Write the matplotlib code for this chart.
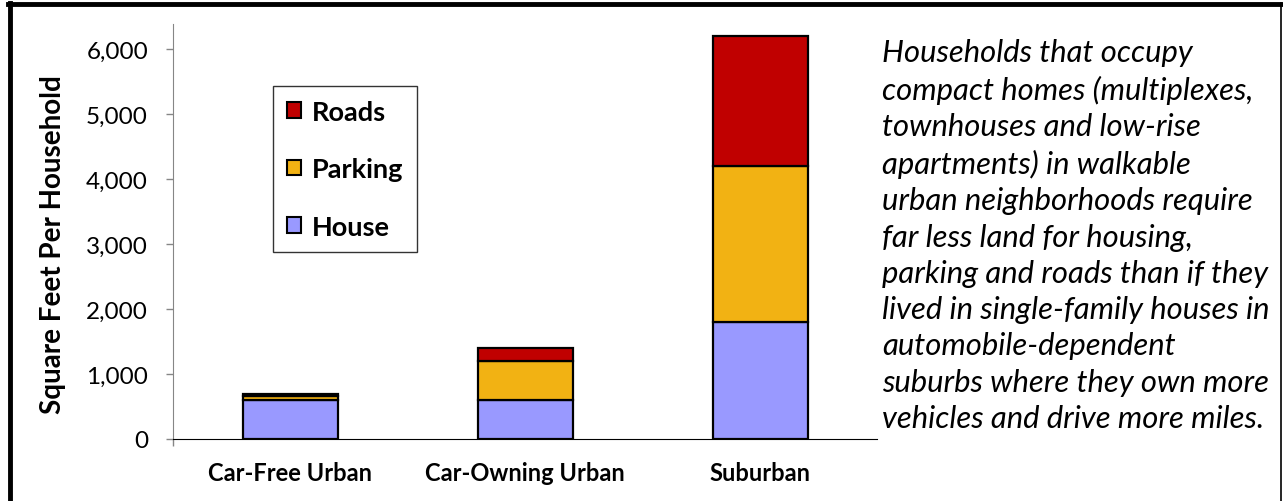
import matplotlib
matplotlib.use("Agg")
import matplotlib.pyplot as plt
from matplotlib.lines import Line2D
from matplotlib.ticker import FuncFormatter

plt.rcParams['font.family'] = ['Lato', 'DejaVu Sans']

categories = ["Car-Free Urban", "Car-Owning Urban", "Suburban"]
house = [600, 600, 1800]
parking = [60, 600, 2400]
roads = [30, 200, 2000]
series_names = ["House", "Parking", "Roads"]
colors = ["#9999FF", "#F2B213", "#C00000"]
yticks = [0, 1000, 2000, 3000, 4000, 5000, 6000]
note = ("Households that occupy\n"
        "compact homes (multiplexes,\n"
        "townhouses and low-rise\n"
        "apartments) in walkable\n"
        "urban neighborhoods require\n"
        "far less land for housing,\n"
        "parking and roads than if they\n"
        "lived in single-family houses in\n"
        "automobile-dependent\n"
        "suburbs where they own more\n"
        "vehicles and drive more miles.")

W, H = 1283, 502
fig = plt.figure(figsize=(W / 100, H / 100), dpi=100)
ax = fig.add_axes([173 / W, 1 - 440 / H, 704.5 / W, 415 / H])

x = list(range(len(categories)))
bottom = [0] * len(categories)
handles = []
for name, vals, c in zip(series_names, [house, parking, roads], colors):
    b = ax.bar(x, vals, width=0.404, bottom=bottom, color=c, edgecolor="black",
               linewidth=1.6, label=name, zorder=3)
    handles.append(b)
    bottom = [bb + v for bb, v in zip(bottom, vals)]

ax.set_xlim(-0.5, 2.5)
ax.set_ylim(0, 6385)
ax.set_yticks(yticks)
ax.yaxis.set_major_formatter(FuncFormatter(lambda v, p: f"{int(v):,}"))
ax.set_xticks(x)
ax.set_xticklabels(categories, fontsize=17, fontweight="bold")
ax.tick_params(axis="x", length=0, pad=16)
ax.set_xticks([-0.5], minor=True)
ax.tick_params(axis="x", which="minor", length=5, width=1, color="#868686")
ax.tick_params(axis="y", length=5, width=1, color="#868686", labelsize=17.5, pad=13)

for s in ["top", "right"]:
    ax.spines[s].set_visible(False)
ax.spines["left"].set_color("#868686")
ax.spines["bottom"].set_color("black")
ax.spines["bottom"].set_zorder(4)

ax.set_ylabel("Square Feet Per Household", fontsize=20, fontweight="bold")
ax.yaxis.set_label_coords(-0.152, 0.47)

leg = ax.legend(handles[::-1], series_names[::-1], loc="upper left",
                bbox_to_anchor=((273 - 173) / 704.5, (440 - 87) / 415),
                borderaxespad=0, fancybox=False, edgecolor="#333333",
                prop={"size": 19.5, "weight": "bold"}, labelspacing=1.24,
                handlelength=0.52, handleheight=0.52, handletextpad=0.42,
                borderpad=0.5, framealpha=1)
leg.get_frame().set_linewidth(1)
for p in leg.get_patches():
    p.set_linewidth(1.5)

fig.text(882 / W, 1 - 236 / H, note, fontsize=22.3, style="italic",
         ha="left", va="center", linespacing=1.36)

# outer frame
fig.add_artist(Line2D([10 / W, 10 / W], [0, 1 - 4 / H], color="black", lw=3.5))
fig.add_artist(Line2D([8 / W, 1281 / W], [1 - 4.5 / H, 1 - 4.5 / H], color="black", lw=3.5))
fig.add_artist(Line2D([1280.5 / W, 1280.5 / W], [0, 1 - 4 / H], color="black", lw=1.2))

fig.savefig("out.png", dpi=100)
